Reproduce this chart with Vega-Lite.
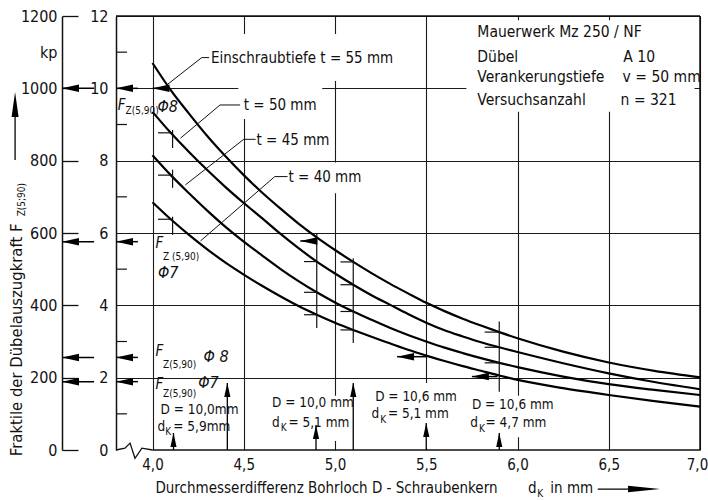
{
  "$schema": "https://vega.github.io/schema/vega-lite/v6.json",
  "width": 584,
  "height": 434,
  "autosize": "none",
  "padding": {"left": 116, "top": 16, "right": 8, "bottom": 50},
  "background": "white",
  "config": {
    "view": {"stroke": null},
    "font": "DejaVu Sans Condensed, DejaVu Sans, sans-serif",
    "axis": {"labelColor": "#111", "domainColor": "#111", "gridColor": "#1a1a1a", "tickColor": "#111", "labelFont": "DejaVu Sans Condensed, DejaVu Sans, sans-serif"},
    "text": {"color": "#111"}
  },
  "datasets": {
    "curves": [
      {"t": "55", "x": 4.0, "y": 10.70}, {"t": "55", "x": 4.1, "y": 9.95}, {"t": "55", "x": 4.2, "y": 9.30}, {"t": "55", "x": 4.3, "y": 8.68}, {"t": "55", "x": 4.4, "y": 8.12}, {"t": "55", "x": 4.5, "y": 7.60}, {"t": "55", "x": 4.6, "y": 7.12}, {"t": "55", "x": 4.7, "y": 6.68}, {"t": "55", "x": 4.8, "y": 6.26}, {"t": "55", "x": 4.9, "y": 5.88}, {"t": "55", "x": 5.0, "y": 5.53}, {"t": "55", "x": 5.1, "y": 5.20}, {"t": "55", "x": 5.2, "y": 4.89}, {"t": "55", "x": 5.3, "y": 4.60}, {"t": "55", "x": 5.4, "y": 4.33}, {"t": "55", "x": 5.5, "y": 4.07}, {"t": "55", "x": 5.6, "y": 3.84}, {"t": "55", "x": 5.7, "y": 3.63}, {"t": "55", "x": 5.8, "y": 3.44}, {"t": "55", "x": 5.9, "y": 3.26}, {"t": "55", "x": 6.0, "y": 3.09}, {"t": "55", "x": 6.25, "y": 2.72}, {"t": "55", "x": 6.5, "y": 2.42}, {"t": "55", "x": 6.75, "y": 2.19}, {"t": "55", "x": 7.0, "y": 2.01},
      {"t": "50", "x": 4.0, "y": 9.35}, {"t": "50", "x": 4.1, "y": 8.77}, {"t": "50", "x": 4.2, "y": 8.24}, {"t": "50", "x": 4.3, "y": 7.74}, {"t": "50", "x": 4.4, "y": 7.27}, {"t": "50", "x": 4.5, "y": 6.83}, {"t": "50", "x": 4.6, "y": 6.41}, {"t": "50", "x": 4.7, "y": 5.98}, {"t": "50", "x": 4.8, "y": 5.58}, {"t": "50", "x": 4.9, "y": 5.21}, {"t": "50", "x": 5.0, "y": 4.88}, {"t": "50", "x": 5.1, "y": 4.57}, {"t": "50", "x": 5.2, "y": 4.28}, {"t": "50", "x": 5.3, "y": 4.02}, {"t": "50", "x": 5.4, "y": 3.76}, {"t": "50", "x": 5.5, "y": 3.52}, {"t": "50", "x": 5.6, "y": 3.31}, {"t": "50", "x": 5.7, "y": 3.14}, {"t": "50", "x": 5.8, "y": 2.98}, {"t": "50", "x": 5.9, "y": 2.84}, {"t": "50", "x": 6.0, "y": 2.71}, {"t": "50", "x": 6.25, "y": 2.40}, {"t": "50", "x": 6.5, "y": 2.12}, {"t": "50", "x": 6.75, "y": 1.88}, {"t": "50", "x": 7.0, "y": 1.68},
      {"t": "45", "x": 4.0, "y": 8.15}, {"t": "45", "x": 4.1, "y": 7.60}, {"t": "45", "x": 4.2, "y": 7.10}, {"t": "45", "x": 4.3, "y": 6.62}, {"t": "45", "x": 4.4, "y": 6.17}, {"t": "45", "x": 4.5, "y": 5.76}, {"t": "45", "x": 4.6, "y": 5.38}, {"t": "45", "x": 4.7, "y": 5.01}, {"t": "45", "x": 4.8, "y": 4.67}, {"t": "45", "x": 4.9, "y": 4.36}, {"t": "45", "x": 5.0, "y": 4.08}, {"t": "45", "x": 5.1, "y": 3.83}, {"t": "45", "x": 5.2, "y": 3.60}, {"t": "45", "x": 5.3, "y": 3.38}, {"t": "45", "x": 5.4, "y": 3.18}, {"t": "45", "x": 5.5, "y": 3.00}, {"t": "45", "x": 5.6, "y": 2.83}, {"t": "45", "x": 5.7, "y": 2.68}, {"t": "45", "x": 5.8, "y": 2.54}, {"t": "45", "x": 5.9, "y": 2.41}, {"t": "45", "x": 6.0, "y": 2.29}, {"t": "45", "x": 6.25, "y": 2.03}, {"t": "45", "x": 6.5, "y": 1.82}, {"t": "45", "x": 6.75, "y": 1.66}, {"t": "45", "x": 7.0, "y": 1.52},
      {"t": "40", "x": 4.0, "y": 6.85}, {"t": "40", "x": 4.1, "y": 6.38}, {"t": "40", "x": 4.2, "y": 5.95}, {"t": "40", "x": 4.3, "y": 5.55}, {"t": "40", "x": 4.4, "y": 5.18}, {"t": "40", "x": 4.5, "y": 4.85}, {"t": "40", "x": 4.6, "y": 4.54}, {"t": "40", "x": 4.7, "y": 4.25}, {"t": "40", "x": 4.8, "y": 3.98}, {"t": "40", "x": 4.9, "y": 3.74}, {"t": "40", "x": 5.0, "y": 3.52}, {"t": "40", "x": 5.1, "y": 3.32}, {"t": "40", "x": 5.2, "y": 3.13}, {"t": "40", "x": 5.3, "y": 2.95}, {"t": "40", "x": 5.4, "y": 2.77}, {"t": "40", "x": 5.5, "y": 2.61}, {"t": "40", "x": 5.6, "y": 2.46}, {"t": "40", "x": 5.7, "y": 2.32}, {"t": "40", "x": 5.8, "y": 2.19}, {"t": "40", "x": 5.9, "y": 2.06}, {"t": "40", "x": 6.0, "y": 1.94}, {"t": "40", "x": 6.25, "y": 1.71}, {"t": "40", "x": 6.5, "y": 1.52}, {"t": "40", "x": 6.75, "y": 1.35}, {"t": "40", "x": 7.0, "y": 1.20}
    ],
    "masks": [
      {"x": 5.72, "x2": 6.97, "y": 9.35, "y2": 11.88},
      {"x": 4.28, "x2": 5.33, "y": 10.2, "y2": 11.5},
      {"x": 4.47, "x2": 4.93, "y": 9.15, "y2": 10.2},
      {"x": 4.53, "x2": 4.97, "y": 8.3, "y2": 8.85},
      {"x": 4.7, "x2": 5.12, "y": 7.1, "y2": 7.95},
      {"x": 4.64, "x2": 5.08, "y": 0.25, "y2": 1.5},
      {"x": 5.19, "x2": 5.64, "y": 0.05, "y2": 1.85},
      {"x": 5.73, "x2": 6.15, "y": 0.35, "y2": 1.5}
    ],
    "frame": [
      {"x": 3.8, "x2": 7.0, "y": 12, "y2": 12},
      {"x": 7.0, "x2": 7.0, "y": 0, "y2": 12},
      {"x": 4.0, "x2": 7.0, "y": 0, "y2": 0}
    ],
    "zigzag": [
      {"o": 1, "x": 3.8, "y": 0}, {"o": 2, "x": 3.849, "y": 0.05}, {"o": 3, "x": 3.877, "y": 0.19}, {"o": 4, "x": 3.904, "y": -0.23}, {"o": 5, "x": 3.942, "y": 0.05}, {"o": 6, "x": 4.0, "y": 0}
    ],
    "minor": [{"y": 1}, {"y": 3}, {"y": 5}, {"y": 7}, {"y": 9}, {"y": 11}],
    "hticks": [
      {"x": 4.03, "x2": 4.11, "y": 8.77}, {"x": 4.03, "x2": 4.11, "y": 7.60}, {"x": 4.03, "x2": 4.11, "y": 6.38},
      {"x": 4.83, "x2": 4.9, "y": 5.21}, {"x": 4.83, "x2": 4.9, "y": 4.36}, {"x": 4.83, "x2": 4.9, "y": 3.74},
      {"x": 5.03, "x2": 5.1, "y": 5.20}, {"x": 5.03, "x2": 5.1, "y": 4.57}, {"x": 5.03, "x2": 5.1, "y": 3.83}, {"x": 5.03, "x2": 5.1, "y": 3.32},
      {"x": 5.82, "x2": 5.9, "y": 3.26}, {"x": 5.82, "x2": 5.9, "y": 2.84}, {"x": 5.82, "x2": 5.9, "y": 2.41}
    ],
    "vticks": [
      {"x": 4.11, "y": 8.35, "y2": 8.85}, {"x": 4.11, "y": 7.25, "y2": 7.75}, {"x": 4.11, "y": 5.95, "y2": 6.45},
      {"x": 4.9, "y": 3.37, "y2": 6.0},
      {"x": 5.1, "y": 2.96, "y2": 5.3},
      {"x": 5.9, "y": 1.61, "y2": 3.55}
    ],
    "arrL": [
      {"tip": 3.504, "tail": 3.68, "y": 10.0}, {"tip": 3.504, "tail": 3.68, "y": 5.76}, {"tip": 3.504, "tail": 3.68, "y": 2.56}, {"tip": 3.504, "tail": 3.68, "y": 1.89},
      {"tip": 3.8, "tail": 3.92, "y": 10.0}, {"tip": 3.8, "tail": 3.92, "y": 5.76}, {"tip": 3.8, "tail": 3.92, "y": 2.56}, {"tip": 3.8, "tail": 3.92, "y": 1.89},
      {"tip": 4.0, "tail": 4.09, "y": 10.0}, {"tip": 4.81, "tail": 4.9, "y": 5.78}, {"tip": 5.34, "tail": 5.5, "y": 2.58}, {"tip": 5.75, "tail": 5.89, "y": 2.03}
    ],
    "arrU": [
      {"x": 4.115, "tip": 0.47, "base": 0}, {"x": 4.41, "tip": 1.85, "base": 0}, {"x": 4.896, "tip": 0.69, "base": 0},
      {"x": 5.1, "tip": 1.85, "base": 0}, {"x": 5.5, "tip": 0.75, "base": 0}, {"x": 5.9, "tip": 0.47, "base": 0}
    ],
    "leaders": [
      {"g": 1, "o": 1, "x": 4.31, "y": 10.85}, {"g": 1, "o": 2, "x": 4.27, "y": 10.85}, {"g": 1, "o": 3, "x": 4.08, "y": 10.1},
      {"g": 2, "o": 1, "x": 4.48, "y": 9.54}, {"g": 2, "o": 2, "x": 4.37, "y": 9.54}, {"g": 2, "o": 3, "x": 4.153, "y": 8.62},
      {"g": 3, "o": 1, "x": 4.565, "y": 8.59}, {"g": 3, "o": 2, "x": 4.5, "y": 8.59}, {"g": 3, "o": 3, "x": 4.18, "y": 7.33},
      {"g": 4, "o": 1, "x": 4.74, "y": 7.56}, {"g": 4, "o": 2, "x": 4.67, "y": 7.56}, {"g": 4, "o": 3, "x": 4.263, "y": 5.78}
    ],
    "texts": [
      {"x": 4.32, "y": 10.85, "text": "Einschraubtiefe  t = 55 mm"},
      {"x": 4.5, "y": 9.54, "text": "t = 50 mm"},
      {"x": 4.57, "y": 8.58, "text": "t = 45 mm"},
      {"x": 4.745, "y": 7.55, "text": "t = 40 mm"}
    ],
    "btexts": [
      {"x": 4.044, "y": 1.1, "text": "D = 10,0mm"},
      {"x": 4.027, "y": 0.64, "text": "d"},
      {"x": 4.114, "y": 0.64, "text": "= 5,9mm"},
      {"x": 4.655, "y": 1.3, "text": "D = 10,0 mm"},
      {"x": 4.655, "y": 0.75, "text": "d"},
      {"x": 4.745, "y": 0.75, "text": "=  5,1 mm"},
      {"x": 5.22, "y": 1.47, "text": "D = 10,6 mm"},
      {"x": 5.2, "y": 0.99, "text": "d"},
      {"x": 5.29, "y": 0.99, "text": "=   5,1 mm"},
      {"x": 5.75, "y": 1.24, "text": "D = 10,6 mm"},
      {"x": 5.741, "y": 0.74, "text": "d"},
      {"x": 5.825, "y": 0.74, "text": "= 4,7 mm"}
    ],
    "legend": [
      {"x": 5.78, "y": 11.57, "text": "Mauerwerk  Mz 250 / NF"},
      {"x": 5.78, "y": 10.87, "text": "Dübel"},
      {"x": 6.58, "y": 10.87, "text": "A 10"},
      {"x": 5.78, "y": 10.3, "text": "Verankerungstiefe"},
      {"x": 6.576, "y": 10.3, "text": "v = 50 mm"},
      {"x": 5.78, "y": 9.68, "text": "Versuchsanzahl"},
      {"x": 6.565, "y": 9.68, "text": "n = 321"}
    ],
    "flabels": [
      {"x": 3.81, "y": 9.55, "text": "F"}, {"x": 4.016, "y": 5.72, "text": "F"}, {"x": 4.016, "y": 2.73, "text": "F"}, {"x": 4.016, "y": 1.82, "text": "F"}
    ],
    "subs": [
      {"x": 3.852, "y": 9.36, "text": "Z(5,90)"}, {"x": 4.058, "y": 5.34, "text": "Z (5,90)"}, {"x": 4.058, "y": 2.34, "text": "Z(5,90)"}, {"x": 4.058, "y": 1.56, "text": "Z(5,90)"},
      {"x": 4.07, "y": 0.5, "text": "K"}, {"x": 4.703, "y": 0.6, "text": "K"}, {"x": 5.248, "y": 0.84, "text": "K"}, {"x": 5.789, "y": 0.59, "text": "K"}
    ],
    "phi": [
      {"x": 4.027, "y": 9.49, "text": "Φ8"}, {"x": 4.03, "y": 4.89, "text": "Φ7"}, {"x": 4.28, "y": 2.57, "text": "Φ 8"}, {"x": 4.25, "y": 1.85, "text": "Φ7"}
    ],
    "xtitle": [
      {"x": 4.016, "y": -1.19, "text": "Durchmesserdifferenz  Bohrloch D - Schraubenkern"},
      {"x": 6.058, "y": -1.19, "text": "d"},
      {"x": 6.18, "y": -1.19, "text": "in mm"}
    ],
    "xtitlesub": [{"x": 6.108, "y": -1.3, "text": "K"}],
    "ytitle": [{"x": 3.258, "y": -0.17, "text": "Fraktile der Dübelauszugkraft F"}],
    "ytitlesub": [{"x": 3.285, "y": 6.46, "text": "Z(5;90)"}],
    "xarrow": [{"x": 6.44, "x2": 6.62, "tip": 6.781, "y": -1.08}],
    "yarrow": [{"x": 3.247, "y": 8.02, "y2": 9.6, "tip": 9.9}],
    "kp": [{"kp": 0}, {"kp": 1200}]
  },
  "layer": [
    {
      "layer": [
        {
          "data": {"name": "masks"},
          "mark": {"type": "rect", "color": "white"},
          "encoding": {
            "x": {"field": "x", "type": "quantitative", "scale": {"domain": [3.8, 7.0], "nice": false, "zero": false},
              "axis": {"values": [4, 4.5, 5, 5.5, 6, 6.5, 7], "labelExpr": "replace(format(datum.value,'.1f'),'.',',')", "grid": true, "gridWidth": 1.1, "domain": false, "ticks": false, "labelPadding": 7, "labelFontSize": 15, "labelFlush": false, "labelOffset": {"condition": {"test": "datum.value == 7", "value": -3}, "value": 0}, "title": null}},
            "x2": {"field": "x2"},
            "y": {"field": "y", "type": "quantitative", "scale": {"domain": [0, 12], "nice": false, "zero": false},
              "axis": {"orient": "left", "values": [0, 1, 2, 3, 4, 5, 6, 7, 8, 9, 10, 11, 12], "labelExpr": "datum.value == 11 ? 'kN' : (datum.value % 2 == 0 ? format(datum.value, 'd') : '')", "grid": true, "gridWidth": 1.1, "gridOpacity": {"condition": {"test": "datum.value % 2 == 1 || datum.value == 0", "value": 0}, "value": 1}, "ticks": false, "domain": true, "domainWidth": 1.5, "labelPadding": 8, "labelFontSize": 16, "title": null}},
            "y2": {"field": "y2"}
          }
        },
        {
          "data": {"name": "frame"},
          "mark": {"type": "rule", "color": "#111", "strokeWidth": 1.5},
          "encoding": {"x": {"field": "x", "type": "quantitative"}, "x2": {"field": "x2"}, "y": {"field": "y", "type": "quantitative"}, "y2": {"field": "y2"}}
        },
        {
          "data": {"name": "zigzag"},
          "mark": {"type": "line", "color": "#111", "strokeWidth": 1.3},
          "encoding": {"x": {"field": "x", "type": "quantitative"}, "y": {"field": "y", "type": "quantitative"}, "order": {"field": "o"}}
        },
        {
          "data": {"name": "minor"},
          "mark": {"type": "rule", "color": "#111", "strokeWidth": 1.2},
          "encoding": {"x": {"datum": 3.8}, "x2": {"datum": 3.86}, "y": {"field": "y", "type": "quantitative"}}
        },
        {
          "data": {"name": "curves"},
          "mark": {"type": "line", "color": "#000", "strokeWidth": 2.2, "interpolate": "monotone"},
          "encoding": {"x": {"field": "x", "type": "quantitative"}, "y": {"field": "y", "type": "quantitative"}, "detail": {"field": "t"}}
        },
        {
          "data": {"name": "leaders"},
          "mark": {"type": "line", "color": "#111", "strokeWidth": 1},
          "encoding": {"x": {"field": "x", "type": "quantitative"}, "y": {"field": "y", "type": "quantitative"}, "detail": {"field": "g"}, "order": {"field": "o"}}
        },
        {
          "data": {"name": "hticks"},
          "mark": {"type": "rule", "color": "#111", "strokeWidth": 1.2},
          "encoding": {"x": {"field": "x", "type": "quantitative"}, "x2": {"field": "x2"}, "y": {"field": "y", "type": "quantitative"}}
        },
        {
          "data": {"name": "vticks"},
          "mark": {"type": "rule", "color": "#111", "strokeWidth": 1.2},
          "encoding": {"x": {"field": "x", "type": "quantitative"}, "y": {"field": "y", "type": "quantitative"}, "y2": {"field": "y2"}}
        },
        {
          "data": {"name": "arrL"},
          "mark": {"type": "rule", "color": "#000", "strokeWidth": 1.5},
          "encoding": {"x": {"field": "tip", "type": "quantitative"}, "x2": {"field": "tail"}, "y": {"field": "y", "type": "quantitative"}}
        },
        {
          "data": {"name": "arrL"},
          "mark": {"type": "point", "shape": "M0 0L1 -0.22L1 0.22Z", "filled": true, "color": "#000", "opacity": 1, "size": 1156, "strokeWidth": 0},
          "encoding": {"x": {"field": "tip", "type": "quantitative"}, "y": {"field": "y", "type": "quantitative"}}
        },
        {
          "data": {"name": "arrU"},
          "mark": {"type": "rule", "color": "#000", "strokeWidth": 1.3},
          "encoding": {"x": {"field": "x", "type": "quantitative"}, "y": {"field": "base", "type": "quantitative"}, "y2": {"field": "tip"}}
        },
        {
          "data": {"name": "arrU"},
          "mark": {"type": "point", "shape": "M0 0L-0.22 1L0.22 1Z", "filled": true, "color": "#000", "opacity": 1, "size": 784, "strokeWidth": 0},
          "encoding": {"x": {"field": "x", "type": "quantitative"}, "y": {"field": "tip", "type": "quantitative"}}
        },
        {
          "data": {"name": "texts"},
          "mark": {"type": "text", "align": "left", "baseline": "middle", "fontSize": 15},
          "encoding": {"x": {"field": "x", "type": "quantitative"}, "y": {"field": "y", "type": "quantitative"}, "text": {"field": "text"}}
        },
        {
          "data": {"name": "btexts"},
          "mark": {"type": "text", "align": "left", "baseline": "middle", "fontSize": 13.5},
          "encoding": {"x": {"field": "x", "type": "quantitative"}, "y": {"field": "y", "type": "quantitative"}, "text": {"field": "text"}}
        },
        {
          "data": {"name": "legend"},
          "mark": {"type": "text", "align": "left", "baseline": "middle", "fontSize": 15.5},
          "encoding": {"x": {"field": "x", "type": "quantitative"}, "y": {"field": "y", "type": "quantitative"}, "text": {"field": "text"}}
        },
        {
          "data": {"name": "flabels"},
          "mark": {"type": "text", "align": "left", "baseline": "middle", "fontSize": 15, "fontStyle": "italic"},
          "encoding": {"x": {"field": "x", "type": "quantitative"}, "y": {"field": "y", "type": "quantitative"}, "text": {"field": "text"}}
        },
        {
          "data": {"name": "subs"},
          "mark": {"type": "text", "align": "left", "baseline": "middle", "fontSize": 10},
          "encoding": {"x": {"field": "x", "type": "quantitative"}, "y": {"field": "y", "type": "quantitative"}, "text": {"field": "text"}}
        },
        {
          "data": {"name": "phi"},
          "mark": {"type": "text", "align": "left", "baseline": "middle", "fontSize": 16, "fontStyle": "italic"},
          "encoding": {"x": {"field": "x", "type": "quantitative"}, "y": {"field": "y", "type": "quantitative"}, "text": {"field": "text"}}
        },
        {
          "data": {"name": "xtitle"},
          "mark": {"type": "text", "align": "left", "baseline": "alphabetic", "fontSize": 15},
          "encoding": {"x": {"field": "x", "type": "quantitative"}, "y": {"field": "y", "type": "quantitative"}, "text": {"field": "text"}}
        },
        {
          "data": {"name": "xtitlesub"},
          "mark": {"type": "text", "align": "left", "baseline": "alphabetic", "fontSize": 10},
          "encoding": {"x": {"field": "x", "type": "quantitative"}, "y": {"field": "y", "type": "quantitative"}, "text": {"field": "text"}}
        },
        {
          "data": {"name": "ytitle"},
          "mark": {"type": "text", "align": "left", "baseline": "middle", "fontSize": 16.5, "angle": 270},
          "encoding": {"x": {"field": "x", "type": "quantitative"}, "y": {"field": "y", "type": "quantitative"}, "text": {"field": "text"}}
        },
        {
          "data": {"name": "ytitlesub"},
          "mark": {"type": "text", "align": "left", "baseline": "middle", "fontSize": 10, "angle": 270},
          "encoding": {"x": {"field": "x", "type": "quantitative"}, "y": {"field": "y", "type": "quantitative"}, "text": {"field": "text"}}
        },
        {
          "data": {"name": "xarrow"},
          "mark": {"type": "rule", "color": "#000", "strokeWidth": 1.3},
          "encoding": {"x": {"field": "x", "type": "quantitative"}, "x2": {"field": "x2"}, "y": {"field": "y", "type": "quantitative"}}
        },
        {
          "data": {"name": "xarrow"},
          "mark": {"type": "point", "shape": "M0 0L-1 -0.1L-1 0.1Z", "filled": true, "color": "#000", "opacity": 1, "size": 4096, "strokeWidth": 0},
          "encoding": {"x": {"field": "tip", "type": "quantitative"}, "y": {"field": "y", "type": "quantitative"}}
        },
        {
          "data": {"name": "yarrow"},
          "mark": {"type": "rule", "color": "#000", "strokeWidth": 1.3},
          "encoding": {"x": {"field": "x", "type": "quantitative"}, "y": {"field": "y", "type": "quantitative"}, "y2": {"field": "y2"}}
        },
        {
          "data": {"name": "yarrow"},
          "mark": {"type": "point", "shape": "M0 0L-0.14 1L0.14 1Z", "filled": true, "color": "#000", "opacity": 1, "size": 2500, "strokeWidth": 0},
          "encoding": {"x": {"field": "x", "type": "quantitative"}, "y": {"field": "tip", "type": "quantitative"}}
        }
      ]
    },
    {
      "data": {"name": "kp"},
      "mark": {"type": "point", "opacity": 0},
      "encoding": {
        "y": {"field": "kp", "type": "quantitative", "scale": {"domain": [0, 1200], "nice": false, "zero": false},
          "axis": {"orient": "left", "offset": 54, "values": [0, 200, 400, 600, 800, 1000, 1100, 1200], "labelExpr": "datum.value == 1100 ? 'kp' : format(datum.value, 'd')", "tickSize": -16, "tickWidth": 1.3, "tickOpacity": {"condition": {"test": "datum.value == 1100", "value": 0}, "value": 1}, "labelPadding": 21, "labelFontSize": 16, "grid": false, "domainWidth": 1.5, "title": null}}
      }
    }
  ],
  "resolve": {"scale": {"y": "independent"}, "axis": {"y": "independent"}}
}
